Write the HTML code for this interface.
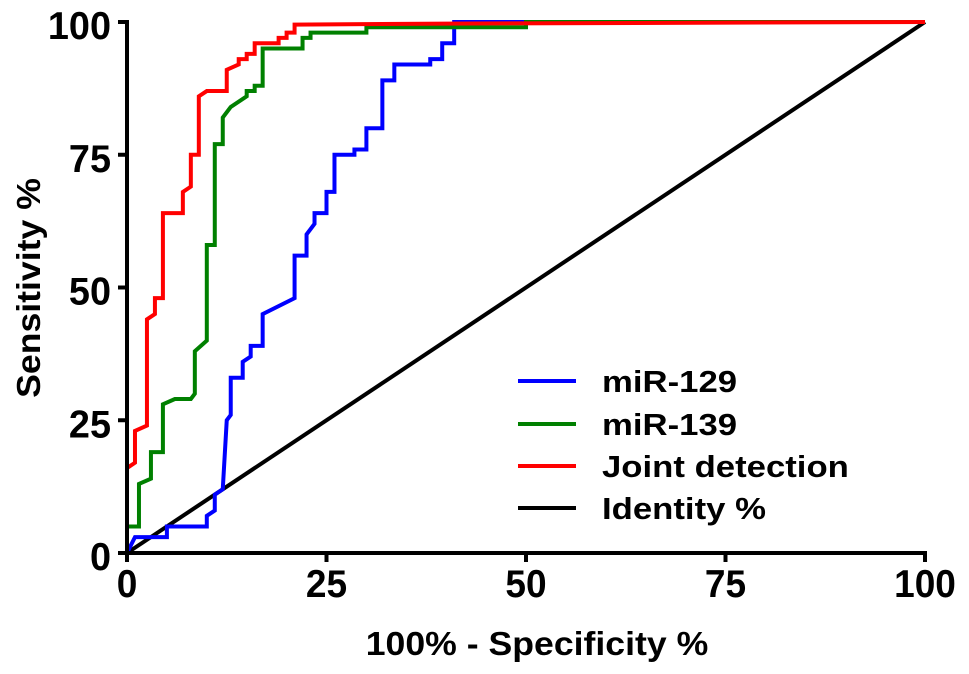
<!DOCTYPE html>
<html><head><meta charset="utf-8"><style>
html,body{margin:0;padding:0;background:#fff;width:969px;height:674px;overflow:hidden}
text{font-family:"Liberation Sans",Arial,sans-serif;font-weight:bold;fill:#000}
</style></head><body>
<svg id="chart" width="969" height="674" viewBox="0 0 969 674" xmlns="http://www.w3.org/2000/svg"></svg>
<script>
const xTicks=[0,25,50,75,100];
const yTicks=[0,25,50,75,100];
const seriesNames=["miR-129","miR-139","Joint detection","Identity %"];
const seriesColors=["#0000ff","#008000","#ff0000","#000000"];
const blueX=[0,1,5,5,10,10,11,11,12,12.5,13,13,14.5,14.5,15.5,15.5,17,17,21,21,22.5,22.5,23.5,23.5,25,25,26,26,28.5,28.5,30,30,32,32,33.5,33.5,38,38,39.5,39.5,41,41,100];
const blueY=[0,3,3,5,5,7,8,11,12,25,26,33,33,36,37,39,39,45,48,56,56,60,62,64,64,68,68,75,75,76,76,80,80,89,89,92,92,93,93,96,96,100,100];
const greenX=[0,0,1.5,1.5,3,3,4.5,4.5,6,8,8.5,8.5,10,10,11,11,12,12,13,15,15,16,16,17,17,22,22,23,23,30,30,50,50,100];
const greenY=[0,5,5,13,14,19,19,28,29,29,30,38,40,58,58,77,77,82,84,86,87,87,88,88,95,95,97,97,98,98,99,99,100,100];
const redX=[0,0,1,1,2.5,2.5,3.5,3.5,4.5,4.5,7,7,8,8,9,9,10,12.5,12.5,14,14,15,15,16,16,19,19,20,20,21,21,40,100];
const redY=[0,16,17,23,24,44,45,48,48,64,64,68,69,75,75,86,87,87,91,92,93,93,94,94,96,96,97,97,98,98,99.5,99.7,100];
const idX=[0,100], idY=[0,100];

const svg=document.getElementById('chart');
const NS="http://www.w3.org/2000/svg";
const X0=127,X1=925,Y0=553,Y1=22;
const sx=v=>X0+(X1-X0)*v/100;
const sy=v=>Y0-(Y0-Y1)*v/100;
function mk(t,a){const e=document.createElementNS(NS,t);for(const k in a)e.setAttribute(k,a[k]);svg.appendChild(e);return e;}

function series(xs,ys,color,name){
  const p=mk('polyline',{points:xs.map((x,i)=>sx(x)+','+sy(ys[i])).join(' '),fill:'none',stroke:color,'stroke-width':4,'stroke-linejoin':'miter'});
  
  
}
series(idX,idY,'#000','identity-line');
series(blueX,blueY,'#0000ff','mir-129-curve');
series(greenX,greenY,'#008000','mir-139-curve');
series(redX,redY,'#ff0000','joint-detection-curve');

const ax=mk('line',{x1:X0,y1:Y1-2,x2:X0,y2:Y0+2,stroke:'#000','stroke-width':4});


const axx=mk('line',{x1:X0-2,y1:Y0,x2:X1+2,y2:Y0,stroke:'#000','stroke-width':4});



xTicks.forEach(v=>{
  const t=mk('line',{x1:sx(v),y1:Y0,x2:sx(v),y2:Y0+9,stroke:'#000','stroke-width':4});
  
  
  const l=mk('text',{x:0,y:0,'text-anchor':'middle','font-size':39,transform:`translate(${sx(v)},${Y0+44}) scale(0.95,1)`});
  l.textContent=v;
  
  
});
yTicks.forEach(v=>{
  const t=mk('line',{x1:X0-9,y1:sy(v),x2:X0,y2:sy(v),stroke:'#000','stroke-width':4});
  
  
  const l=mk('text',{x:0,y:0,'text-anchor':'end','font-size':39,transform:`translate(${X0-16},${sy(v)+17}) scale(0.97,1)`});
  l.textContent=v;
  
  
});

const xt=mk('text',{x:0,y:0,'text-anchor':'middle','font-size':33,transform:'translate(537,655) scale(1.08,1)'});
xt.textContent='100% - Specificity %';


const yt=mk('text',{x:0,y:0,'text-anchor':'middle','font-size':33,transform:'translate(40,288) rotate(-90) scale(1.08,1)'});
yt.textContent='Sensitivity %';



const legY=[381,424,466,508];
seriesNames.forEach((n,i)=>{
  const ln=mk('line',{x1:518,y1:legY[i],x2:576,y2:legY[i],stroke:seriesColors[i],'stroke-width':4});
  
  
  const tx=mk('text',{x:0,y:0,'font-size':31,transform:`translate(602,${legY[i]+11}) scale(1.12,1)`});
  tx.textContent=n;
  
  
});
</script>
</body></html>
